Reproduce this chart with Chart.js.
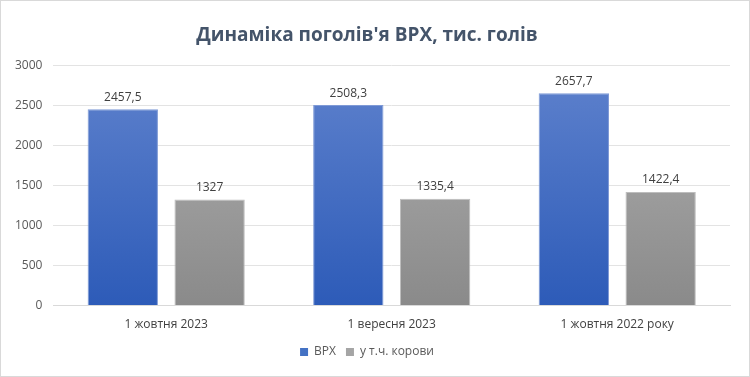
<!DOCTYPE html>
<html>
<head>
<meta charset="utf-8">
<script src="https://cdn.jsdelivr.net/npm/chart.js@4"></script>
<style>
  html, body { margin: 0; padding: 0; background: #fff; }
  #wrap { position: absolute; left: 0; top: 0; width: 748px; height: 375px; border: 1px solid #d9d9d9; }
</style>
</head>
<body>
<div id="wrap"><canvas id="chart_canvas" width="748" height="375"></canvas></div>
<script>
const labels = ["1 жовтня 2023", "1 вересня 2023", "1 жовтня 2022 року"];
const cattleData = [2457.5, 2508.3, 2657.7];
const cowsData = [1327, 1335.4, 1422.4];
const yTicks = [0, 500, 1000, 1500, 2000, 2500, 3000];

function gradient(ctx, top, bottom) {
    var chart = ctx.chart;
    var area = chart.chartArea;
    if (!area) return bottom;
    var g = chart.ctx.createLinearGradient(0, area.top, 0, area.bottom);
    g.addColorStop(0, top);
    g.addColorStop(1, bottom);
    return g;
}

// value labels above bars, comma as decimal separator
var valueLabels = {
    id: 'valueLabels',
    afterDatasetsDraw: function(chart) {
        var c = chart.ctx;
        c.save();
        c.font = '12px "Open Sans", sans-serif';
        c.fillStyle = '#404040';
        c.textAlign = 'center';
        c.textBaseline = 'bottom';
        chart.data.datasets.forEach(function(ds, i) {
            chart.getDatasetMeta(i).data.forEach(function(bar, j) {
                c.fillText(String(ds.data[j]).replace('.', ','), bar.x, bar.y - 6);
            });
        });
        c.restore();
    }
};

var context = document.getElementById('chart_canvas');
new Chart(context, {
    type: 'bar',
    data: {
        labels: labels,
        datasets: [
            {
                label: "ВРХ",
                data: cattleData,
                backgroundColor: function(ctx) { return gradient(ctx, '#5f82cd', '#2d5bb8'); },
                borderColor: '#7f9ad6',
                borderWidth: 1,
                categoryPercentage: 0.77,
                barPercentage: 0.81
            },
            {
                label: "у т.ч. корови",
                data: cowsData,
                backgroundColor: function(ctx) { return gradient(ctx, '#b0b0b0', '#8a8a8a'); },
                borderColor: '#bdbdbd',
                borderWidth: 1,
                categoryPercentage: 0.77,
                barPercentage: 0.81
            }
        ]
    },
    options: {
        responsive: false,
        animation: false,
        layout: { padding: { left: 3, right: 19, top: 0, bottom: 8 } },
        plugins: {
            title: {
                display: true,
                text: "Динаміка поголів'я ВРХ, тис. голів",
                color: '#44546a',
                font: { family: '"Open Sans", sans-serif', size: 19, weight: 'bold' },
                padding: { top: 23, bottom: 19 }
            },
            legend: {
                position: 'bottom',
                labels: {
                    boxWidth: 8,
                    boxHeight: 8,
                    color: '#595959',
                    font: { family: '"Open Sans", sans-serif', size: 12 },
                    padding: 10,
                    generateLabels: function(chart) {
                        var cols = ['#4472c4', '#a5a5a5'];
                        return chart.data.datasets.map(function(ds, i) {
                            return { text: ds.label, fillStyle: cols[i], strokeStyle: cols[i], lineWidth: 0, datasetIndex: i, fontColor: '#595959' };
                        });
                    }
                }
            },
            tooltip: { enabled: false }
        },
        scales: {
            x: {
                grid: { display: false },
                border: { color: '#d9d9d9' },
                ticks: { color: '#404040', font: { family: '"Open Sans", sans-serif', size: 12 }, padding: 4 }
            },
            y: {
                min: 0,
                max: 3000,
                afterBuildTicks: function(axis) { axis.ticks = yTicks.map(function(v) { return { value: v }; }); },
                grid: { color: '#e3e3e3', drawTicks: false },
                border: { display: false },
                ticks: {
                    color: '#595959',
                    font: { family: '"Open Sans", sans-serif', size: 12 },
                    padding: 11,
                    callback: function(v) { return String(v); }
                }
            }
        }
    },
    plugins: [valueLabels]
});
</script>
</body>
</html>
